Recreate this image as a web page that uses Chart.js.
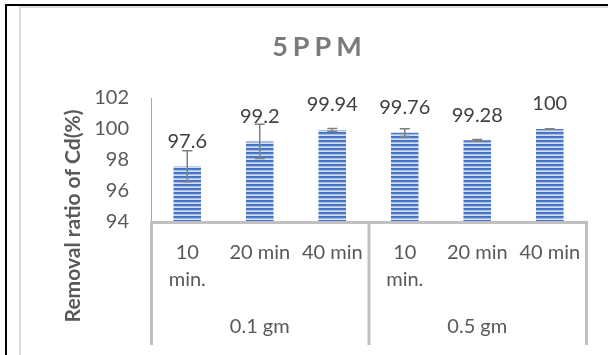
<!DOCTYPE html>
<html>
<head>
<meta charset="utf-8">
<script src="https://cdn.jsdelivr.net/npm/chart.js@4.4.1/dist/chart.umd.min.js"></script>
<style>
  html, body { margin: 0; padding: 0; background: #fff; overflow: hidden; }
  canvas { display: block; }
</style>
</head>
<body>
<canvas id="chart" width="608" height="355"></canvas>
<script>
  // --- Data ---
  const timeLabels = [['10', 'min.'], '20 min', '40 min', ['10', 'min.'], '20 min', '40 min'];
  const doseLabels = ['0.1 gm', '0.5 gm'];
  const removal = [97.6, 99.2, 99.94, 99.76, 99.28, 100];
  const errors = [1.0, 1.1, 0.1, 0.25, 0.05, 0.02];
  const yTicks = [94, 96, 98, 100, 102];

  const FONT = 'Lato, "Open Sans", sans-serif';
  const TEXT = '#595959';

  // horizontal stripe fill, like the Excel pattern
  function stripePattern() {
    const c = document.createElement('canvas');
    c.width = 4; c.height = 4;
    const g = c.getContext('2d');
    ['#4170c2', '#4f7dcb', '#a3bbe4', '#d6e1f4'].forEach((col, i) => {
      g.fillStyle = col;
      g.fillRect(0, i, 4, 1);
    });
    return g.createPattern(c, 'repeat');
  }

  // outer frame + title + y-axis title
  const framePlugin = {
    id: 'frame',
    beforeDraw(chart) {
      const ctx = chart.ctx;
      ctx.save();
      ctx.fillStyle = '#000';
      ctx.fillRect(5, 4, 2, 351);
      ctx.fillRect(5, 4, 603, 2);
      ctx.fillStyle = '#dadada';
      ctx.fillRect(19, 6, 2, 349);
      ctx.fillRect(19, 6, 589, 2);

      ctx.fillStyle = '#7a7a7a';
      ctx.font = 'bold 27px ' + FONT;
      ctx.letterSpacing = '5px';
      ctx.textAlign = 'left';
      ctx.textBaseline = 'middle';
      const t = '5PPM';
      const w = ctx.measureText(t).width - 5;
      ctx.fillText(t, 317 - w / 2, 47);
      ctx.letterSpacing = '0px';

      ctx.translate(73, 216);
      ctx.rotate(-Math.PI / 2);
      ctx.fillStyle = TEXT;
      ctx.font = 'bold 21px ' + FONT;
      ctx.textAlign = 'center';
      ctx.fillText('Removal ratio of Cd(%)', 0, 0);
      ctx.restore();
    }
  };

  // category divider lines under the plot
  const dividerPlugin = {
    id: 'dividers',
    afterDraw(chart) {
      const { ctx, chartArea: a } = chart;
      const mid = (chart.scales.x.getPixelForValue(2) + chart.scales.x.getPixelForValue(3)) / 2;
      ctx.save();
      ctx.fillStyle = '#c0c0c0';
      ctx.fillRect(a.left - 1, a.bottom - 1, a.right - a.left + 3, 3);
      [a.left, mid, a.right].forEach(x => ctx.fillRect(x - 1, a.bottom - 1, 3, 346 - a.bottom));
      ctx.restore();
    }
  };

  // error bars and value labels
  const errorPlugin = {
    id: 'errorBars',
    afterDatasetsDraw(chart) {
      const ctx = chart.ctx;
      const y = chart.scales.y;
      const meta = chart.getDatasetMeta(0);
      ctx.save();
      meta.data.forEach((bar, i) => {
        const top = y.getPixelForValue(removal[i] + errors[i]);
        const bot = y.getPixelForValue(removal[i] - errors[i]);
        ctx.strokeStyle = '#808080';
        ctx.lineWidth = 1.5;
        ctx.beginPath();
        ctx.moveTo(bar.x, top); ctx.lineTo(bar.x, bot);
        ctx.moveTo(bar.x - 5, top); ctx.lineTo(bar.x + 5, top);
        ctx.moveTo(bar.x - 5, bot); ctx.lineTo(bar.x + 5, bot);
        ctx.stroke();

        ctx.fillStyle = '#404040';
        ctx.font = '20px ' + FONT;
        ctx.textAlign = 'center';
        ctx.textBaseline = 'middle';
        ctx.fillText(String(removal[i]), bar.x, bar.y - 25);
      });
      ctx.restore();
    }
  };

  const tickFont = { family: FONT, size: 20 };

  new Chart(document.getElementById('chart').getContext('2d'), {
    type: 'bar',
    data: {
      labels: timeLabels,
      datasets: [{
        data: removal,
        backgroundColor: stripePattern(),
        borderWidth: 0,
        barPercentage: 0.38,
        categoryPercentage: 1,
        xAxisID: 'x',
        yAxisID: 'y',
      }],
    },
    options: {
      responsive: false,
      animation: false,
      events: [],
      layout: { padding: { top: 98, left: 0, right: 22, bottom: 10 } },
      plugins: {
        legend: { display: false },
        title: { display: false },
        tooltip: { enabled: false },
      },
      scales: {
        x: {
          type: 'category',
          labels: timeLabels,
          offset: true,
          grid: { display: false, drawTicks: false },
          border: { display: false },
          ticks: { color: TEXT, font: { ...tickFont, lineHeight: 1.35 }, padding: 17, maxRotation: 0, autoSkip: false },
          afterFit: s => { s.height = 90; },
        },
        x2: {
          type: 'category',
          position: 'bottom',
          labels: doseLabels,
          offset: true,
          weight: 1,
          grid: { display: false, drawTicks: false },
          border: { display: false },
          ticks: { color: TEXT, font: { ...tickFont, lineHeight: 1.2 }, padding: 3, maxRotation: 0, autoSkip: false },
          afterFit: s => { s.height = 33; },
        },
        y: {
          min: 94,
          max: 102,
          afterBuildTicks: s => { s.ticks = yTicks.map(v => ({ value: v })); },
          grid: { display: false, drawTicks: false },
          border: { color: '#8eaadb', width: 1 },
          ticks: { color: TEXT, font: tickFont, padding: 22 },
          afterFit: s => { s.width = 151; },
        },
      },
    },
    plugins: [framePlugin, dividerPlugin, errorPlugin],
  });
</script>
</body>
</html>
